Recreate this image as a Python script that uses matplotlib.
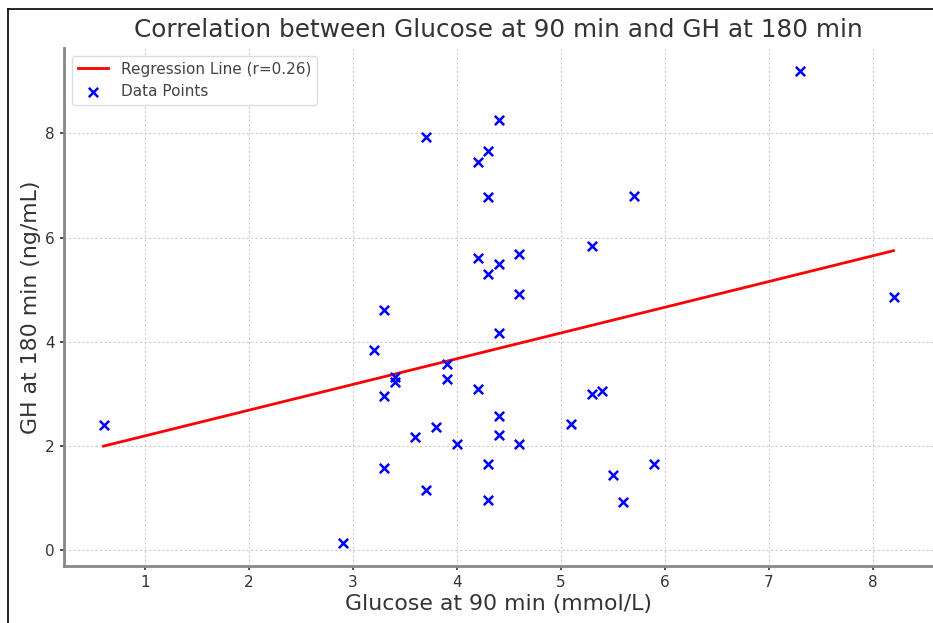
import matplotlib.pyplot as plt
import numpy as np
from matplotlib.lines import Line2D

# Data
glucose_90 = [0.6, 2.9, 3.2, 3.3, 3.3, 3.3, 3.4, 3.4, 3.6, 3.7, 3.7, 3.8, 3.9, 3.9,
              4.0, 4.2, 4.2, 4.2, 4.3, 4.3, 4.3, 4.3, 4.3, 4.4, 4.4, 4.4, 4.4, 4.4,
              4.6, 4.6, 4.6, 5.1, 5.3, 5.3, 5.4, 5.5, 5.6, 5.7, 5.9, 7.3, 8.2]
gh_180 = [2.40, 0.15, 3.85, 4.62, 2.97, 1.58, 3.33, 3.23, 2.17, 7.94, 1.15, 2.37, 3.57, 3.29,
          2.05, 7.46, 5.61, 3.10, 7.66, 6.78, 5.31, 1.65, 0.96, 8.25, 5.49, 4.17, 2.57, 2.21,
          5.69, 4.92, 2.05, 2.42, 5.84, 3.00, 3.06, 1.44, 0.93, 6.79, 1.65, 9.19, 4.87]
r_value = 0.26
line_x = [0.6, 8.2]
line_y = [2.0, 5.75]

text_col = "#333333"

fig = plt.figure(figsize=(9.33, 6.23), dpi=100)
ax = fig.add_axes([0.0686, 0.0915, 0.9314, 0.8315])

ax.plot(line_x, line_y, color="red", lw=2, label=f"Regression Line (r={r_value})")
ax.scatter(glucose_90, gh_180, marker="x", color="blue", s=45, linewidths=1.8,
           label="Data Points", zorder=3)

ax.set_ylim(-0.3, 9.64)
ax.set_xlim(0.22, 8.58)
ax.set_yticks([0, 2, 4, 6, 8])
ax.set_xticks(range(1, 9))

ax.grid(True, linestyle=(0, (2, 2)), color="#cccccc", linewidth=0.8)
ax.set_axisbelow(True)
for side in ["top", "right"]:
    ax.spines[side].set_visible(False)
for side in ["left", "bottom"]:
    ax.spines[side].set_color("#888888")
    ax.spines[side].set_linewidth(2)
ax.tick_params(colors=text_col, labelsize=11, length=3, width=1.2)

ax.set_title("Correlation between Glucose at 90 min and GH at 180 min",
             fontsize=17.8, color=text_col, pad=8)
ax.set_xlabel("Glucose at 90 min (mmol/L)", fontsize=15.8, color=text_col, labelpad=3)
ax.set_ylabel("GH at 180 min (ng/mL)", fontsize=15.8, color=text_col, labelpad=3)

leg = ax.legend(loc="upper left", fontsize=11, framealpha=1, edgecolor="#dddddd")
for t in leg.get_texts():
    t.set_color("#444444")

# screenshot border
fig.add_artist(Line2D([8 / 933, 8 / 933], [0, 1 - 9 / 623], color="black", lw=1.2))
fig.add_artist(Line2D([8 / 933, 1], [1 - 9 / 623, 1 - 9 / 623], color="black", lw=1.2))

fig.savefig("out.png", dpi=100)
